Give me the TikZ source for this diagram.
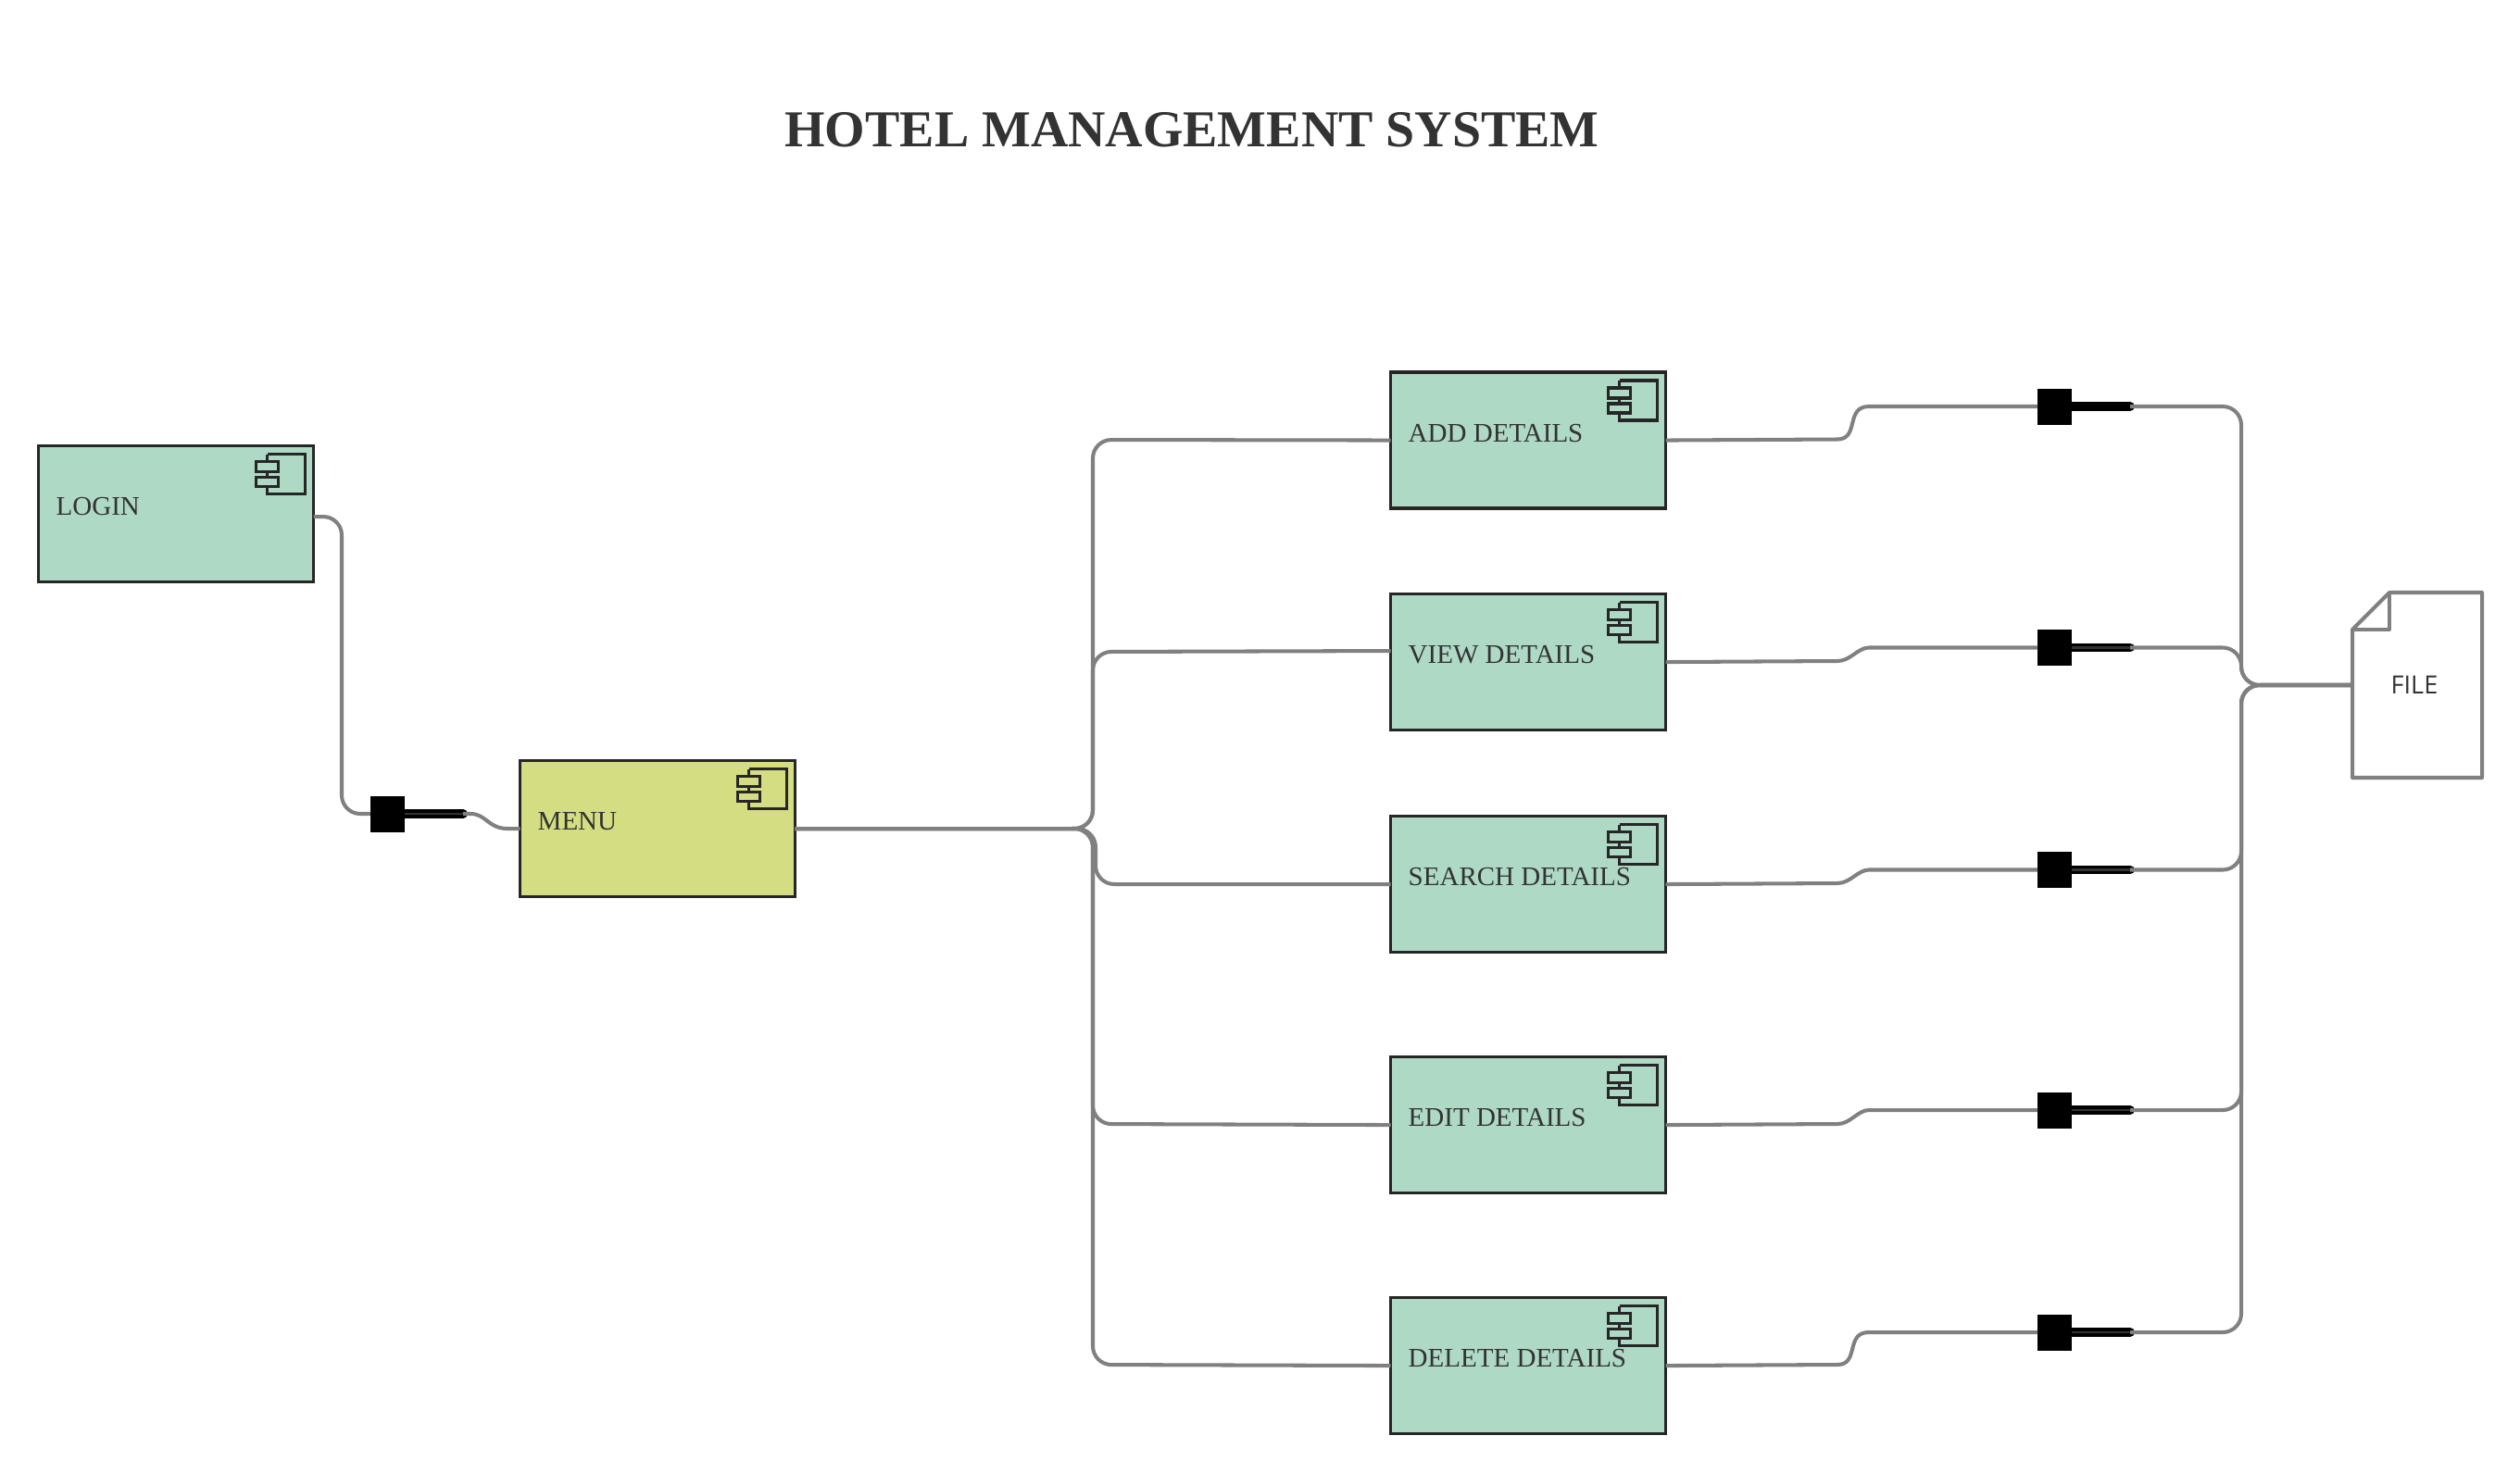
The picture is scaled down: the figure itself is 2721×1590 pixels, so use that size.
\documentclass[tikz,border=0pt]{standalone}
\usepackage{fontspec}
\setmainfont{Liberation Serif}
\newfontfamily\filefont{Open Sans}
\definecolor{boxgreen}{RGB}{173,217,197}
\definecolor{boxyellow}{RGB}{212,221,130}
\definecolor{boxline}{RGB}{38,38,38}
\definecolor{wiregray}{RGB}{128,128,128}
\definecolor{textgray}{RGB}{51,51,51}
\tikzset{
  compbox/.style={draw=boxline,line width=1pt,anchor=north west,outer sep=0pt,inner sep=0pt,minimum width=2.97cm,minimum height=1.47cm},
  boxlabel/.style={anchor=base west,inner sep=0pt,text=textgray,font=\fontsize{8.25pt}{10pt}\selectfont},
  wire/.style={draw=wiregray,line width=1.15pt,rounded corners=0.2cm},
  bendwire/.style={draw=wiregray,line width=1.15pt},
  lollisquare/.style={fill=black,inner sep=0pt,outer sep=0pt,minimum width=0.37cm,minimum height=0.39cm},
  lollibar/.style={black,line width=2.8pt,line cap=round},
  lollicore/.style={draw=textgray,line width=0.7pt},
  compicon/.pic={
    \draw[boxline,line width=0.9pt] (-41,9) -- (0,9) -- (0,52) -- (-41,52) -- (-41,44);
    \draw[boxline,line width=0.9pt] (-41,17) -- (-41,9);
    \draw[boxline,line width=0.9pt] (-41,28) -- (-41,34);
    \draw[boxline,line width=0.9pt] (-53,17) rectangle (-29,28);
    \draw[boxline,line width=0.9pt] (-53,34) rectangle (-29,44);
  }
}

\begin{document}
\begin{tikzpicture}[x=0.01cm,y=-0.01cm]
\useasboundingbox (0,0) rectangle (2721,1590);
% Draw the title
\node[anchor=base,inner sep=0pt,text=textgray,font=\fontsize{15.9pt}{18pt}\selectfont\bfseries] (title) at (1287,158) {HOTEL MANAGEMENT SYSTEM};

% Draw the component boxes
\node[compbox,fill=boxgreen] (login) at (41.5,481.5) {};
\node[compbox,fill=boxyellow] (menu) at (561.5,821.5) {};
\node[compbox,fill=boxgreen] (add) at (1501.5,402) {};
\node[compbox,fill=boxgreen] (view) at (1501.5,641.5) {};
\node[compbox,fill=boxgreen] (search) at (1501.5,881.5) {};
\node[compbox,fill=boxgreen] (edit) at (1501.5,1141.5) {};
\node[compbox,fill=boxgreen] (delete) at (1501.5,1401.5) {};

% Component icons
\pic at (login.north east) [xshift=-0.09cm] {compicon};
\pic at (menu.north east) [xshift=-0.09cm] {compicon};
\pic at (add.north east) [xshift=-0.09cm] {compicon};
\pic at (view.north east) [xshift=-0.09cm] {compicon};
\pic at (search.north east) [xshift=-0.09cm] {compicon};
\pic at (edit.north east) [xshift=-0.09cm] {compicon};
\pic at (delete.north east) [xshift=-0.09cm] {compicon};

% Box labels
\node[boxlabel] (loginlabel) at ([xshift=0.185cm,yshift=-0.015cm]login.west) {LOGIN};
\node[boxlabel] (menulabel) at ([xshift=0.185cm,yshift=-0.015cm]menu.west) {MENU};
\node[boxlabel] (addlabel) at ([xshift=0.185cm,yshift=-0.015cm]add.west) {ADD DETAILS};
\node[boxlabel] (viewlabel) at ([xshift=0.185cm,yshift=-0.015cm]view.west) {VIEW DETAILS};
\node[boxlabel] (searchlabel) at ([xshift=0.185cm,yshift=-0.015cm]search.west) {SEARCH DETAILS};
\node[boxlabel] (editlabel) at ([xshift=0.185cm,yshift=-0.015cm]edit.west) {EDIT DETAILS};
\node[boxlabel] (deletelabel) at ([xshift=0.185cm,yshift=-0.015cm]delete.west) {DELETE DETAILS};

% Draw the file
\node[inner sep=0pt,outer sep=0pt,minimum width=1.4cm,minimum height=2cm] (file) at (2610,740) {};
\node[text=textgray,inner sep=0pt,font=\filefont\fontsize{7.7pt}{9pt}\selectfont] (filelabel) at (2607,740) {FILE};
\draw[wiregray,line width=1.15pt,line join=round] (2580,640) -- (2680,640) -- (2680,840) -- (2540,840) -- (2540,680) -- cycle;
\draw[wiregray,line width=1.15pt,line join=round] (2540,680) -- (2580,680) -- (2580,640);

% Draw the lollipops
\node[lollisquare] (loginsq) at (418.5,879) {};
\node[lollisquare] (addsq) at (2218.5,439) {};
\node[lollisquare] (viewsq) at (2218.5,699.5) {};
\node[lollisquare] (searchsq) at (2218.5,939.5) {};
\node[lollisquare] (editsq) at (2218.5,1199) {};
\node[lollisquare] (deletesq) at (2218.5,1439) {};
\coordinate (logintip) at (500,879);
\coordinate (addtip) at (2300,439);
\coordinate (viewtip) at (2300,699.5);
\coordinate (searchtip) at (2300,939.5);
\coordinate (edittip) at (2300,1199);
\coordinate (deletetip) at (2300,1439);
\draw[lollibar] (loginsq.east) -- (logintip);
\draw[lollibar] (addsq.east) -- (addtip);
\draw[lollibar] (viewsq.east) -- (viewtip);
\draw[lollibar] (searchsq.east) -- (searchtip);
\draw[lollibar] (editsq.east) -- (edittip);
\draw[lollibar] (deletesq.east) -- (deletetip);
\draw[lollicore] (loginsq.east) -- (logintip);
\draw[lollicore] (viewsq.east) -- (viewtip);
\draw[lollicore] (searchsq.east) -- (searchtip);
\draw[lollicore] (editsq.east) -- (edittip);
\draw[lollicore] (deletesq.east) -- (deletetip);

% Login to menu
\draw[wire] ([yshift=-0.03cm]login.east) -- (369,558) -- (369,879) -- (loginsq.west);
\draw[bendwire] (logintip) -- (508,879) .. controls (525,879) and (527,895) .. (548,895) -- (menu.west);

% Menu to the detail boxes
\draw[wire] (menu.east) -- (1180,895) -- (1180,475) -- (add.west);
\draw[wire] (menu.east) -- (1180,895) -- (1180,704) -- ([yshift=0.12cm]view.west);
\draw[wire] (menu.east) -- (1183,895) -- (1183,955) -- (search.west);
\draw[wire] (menu.east) -- (1180,895) -- (1180,1214) -- (edit.west);
\draw[wire] (menu.east) -- (1180,895) -- (1180,1474) -- (delete.west);

% Detail boxes to the lollipops
\draw[bendwire] (add.east) -- (1984,474.5) .. controls (2008,474.5) and (1992,439) .. (2018,439) -- (addsq.west);
\draw[bendwire] (view.east) -- (1984,714) .. controls (1998,714) and (2006,699.5) .. (2018,699.5) -- (viewsq.west);
\draw[bendwire] (search.east) -- (1984,954) .. controls (1998,954) and (2006,939.5) .. (2018,939.5) -- (searchsq.west);
\draw[bendwire] (edit.east) -- (1984,1214) .. controls (1998,1214) and (2006,1199) .. (2018,1199) -- (editsq.west);
\draw[bendwire] (delete.east) -- (1984,1474) .. controls (2008,1474) and (1992,1439) .. (2018,1439) -- (deletesq.west);

% Lollipops to the file
\draw[wire] (addtip) -- (2420,439) -- (2420,740) -- (file.west);
\draw[wire] (viewtip) -- (2420,699.5) -- (2420,740) -- (file.west);
\draw[wire] (searchtip) -- (2420,939.5) -- (2420,740) -- (file.west);
\draw[wire] (edittip) -- (2420,1199) -- (2420,740) -- (file.west);
\draw[wire] (deletetip) -- (2420,1439) -- (2420,740) -- (file.west);
\end{tikzpicture}
\end{document}
